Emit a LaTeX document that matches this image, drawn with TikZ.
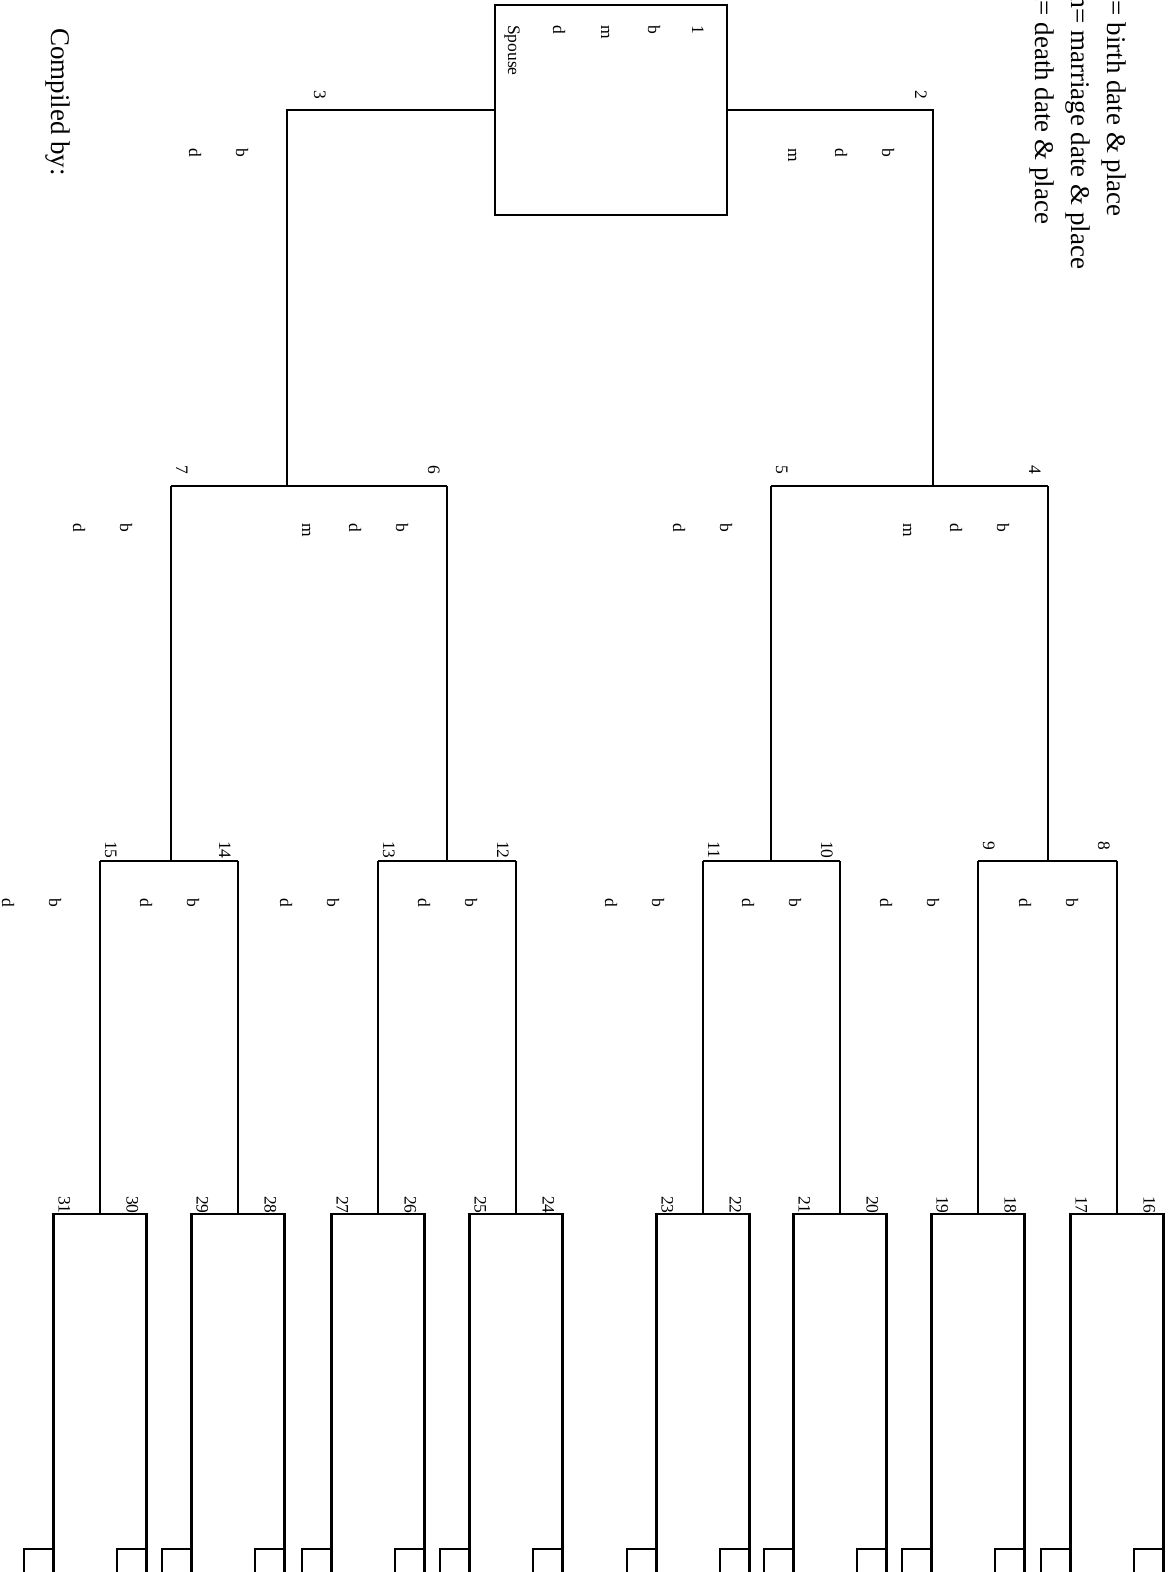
\documentclass[tikz,border=0pt]{standalone}
\usepackage{fontspec}
\setmainfont{Liberation Serif}
\begin{document}
\begin{tikzpicture}[x=1pt,y=-1pt,
  conn/.style={line width=2.4pt,line join=miter},
  lbl/.style={rotate=-90,anchor=base west,inner sep=0pt,font=\fontsize{17.5}{20}\selectfont},
  big/.style={rotate=-90,anchor=base west,inner sep=0pt,font=\fontsize{27}{32}\selectfont},
  tinybox/.style={draw,line width=2pt,minimum width=29pt,minimum height=40pt,inner sep=0pt,anchor=north east}]
\useasboundingbox (0,0) rectangle (1168,1572);
\clip (0,0) rectangle (1168,1572);

% legend and footer
\node[big] (legb) at (1107,-13) {b= birth date \& place};
\node[big] (legm) at (1071,-13) {m= marriage date \& place};
\node[big] (legd) at (1035,-13) {d= death date \& place};
\node[big] (comp) at (51,28) {Compiled by:};

% person 1 box
\node[draw,line width=2.4pt,minimum width=232pt,minimum height=210pt,inner sep=0pt] (p1) at (611,110) {};
\node[lbl] (n1) at (692,25) {1};
\node[lbl] (b1) at (648,25) {b};
\node[lbl] (m1) at (601,25) {m};
\node[lbl] (d1) at (553,25) {d};
\node[lbl] (s1) at (508,25) {Spouse};

% generation 2
\coordinate (p2t) at (933,110);
\coordinate (p2b) at (933,486);
\coordinate (p3t) at (287,110);
\coordinate (p3b) at (287,486);
\draw[conn] (p1.east) -- (p2t) -- (p2b);
\draw[conn] (p1.west) -- (p3t) -- (p3b);
\node[lbl] (n2) at (915,90) {2};
\node[lbl] (n3) at (314,90) {3};
\node[lbl] (b2) at (882,148) {b};
\node[lbl] (d2) at (835,148) {d};
\node[lbl] (m2) at (788,148) {m};
\node[lbl] (b3) at (236,148) {b};
\node[lbl] (d3) at (189,148) {d};

% generation 3
\foreach \p/\x/\o/\hasm in {4/1048/-19/1,5/771/5/0,6/447/-19/1,7/171/5/0}{
  \coordinate (p\p t) at (\x,486);
  \coordinate (p\p b) at (\x,861);
  \draw[conn] (p\p t) -- (p\p b);
  \node[lbl] (n\p) at (\x+\o,465) {\p};
  \node[lbl] (b\p) at (\x-51,523) {b};
  \node[lbl] (d\p) at (\x-98,523) {d};
  \ifnum\hasm=1 \node[lbl] (m\p) at (\x-145,523) {m};\fi
}
\draw[conn] (p5t) -- (p4t);
\draw[conn] (p7t) -- (p6t);

% generation 4 and 5
\foreach \p/\x/\o in {8/1117/-19,9/978/5,10/840/-19,11/703/5,12/516/-19,13/378/5,14/238/-19,15/100/5}{
  \coordinate (p\p t) at (\x,861);
  \coordinate (p\p b) at (\x,1214);
  \draw[conn] (p\p t) -- (p\p b);
  \node[lbl] (n\p) at (\x+\o,841) {\p};
  \node[lbl] (b\p) at (\x-51,898) {b};
  \node[lbl] (d\p) at (\x-98,898) {d};
  \pgfmathtruncatemacro\fa{2*\p}
  \pgfmathtruncatemacro\mo{2*\p+1}
  \coordinate (p\fa t) at (\x+46.5,1214);
  \coordinate (p\mo t) at (\x-46.5,1214);
  \coordinate (p\fa e) at (\x+46.5,1590);
  \coordinate (p\mo e) at (\x-46.5,1590);
  \draw[conn] (p\fa e) -- (p\fa t) -- (p\mo t) -- (p\mo e);
  \node[lbl] (n\fa) at (\x+46.5-20,1196) {\fa};
  \node[lbl] (n\mo) at (\x-46.5+5,1196) {\mo};
  \node[tinybox] (q\fa) at (\x+46.5,1548) {};
  \node[tinybox] (q\mo) at (\x-46.5,1548) {};
}
\draw[conn] (p9t) -- (p8t);
\draw[conn] (p11t) -- (p10t);
\draw[conn] (p13t) -- (p12t);
\draw[conn] (p15t) -- (p14t);
\end{tikzpicture}
\end{document}
